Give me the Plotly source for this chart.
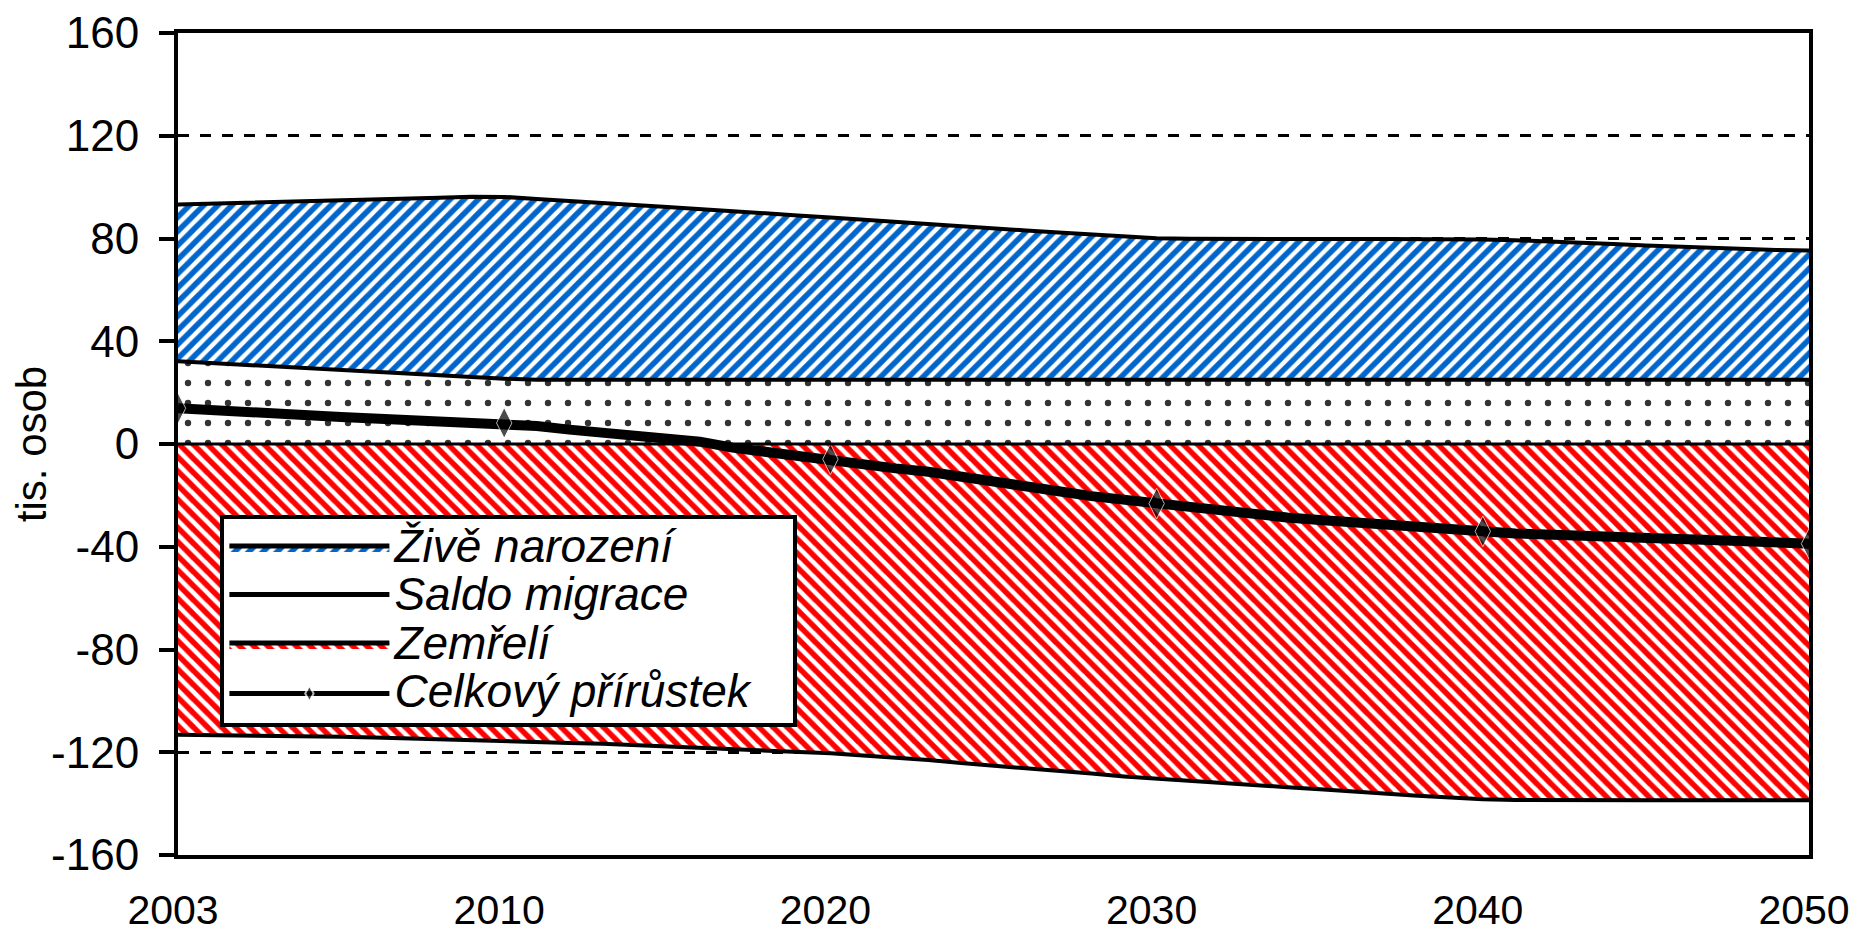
import plotly.graph_objects as go

# the first category sits in the 2000 slot of the axis but is labelled 2003
year_pos = list(range(2000, 2051))
tick_pos = [2000, 2010, 2020, 2030, 2040, 2050]
tick_text = ["2003", "2010", "2020", "2030", "2040", "2050"]
y_ticks = [-160, -120, -80, -40, 0, 40, 80, 120, 160]

births = [93.2, 93.5, 93.8, 94.1, 94.4, 94.7, 95.1, 95.5, 95.9, 96.3,
          96.2, 95.4, 94.5, 93.9, 93.0, 92.3, 91.4, 90.6, 89.8, 89.0,
          88.2, 87.3, 86.4, 85.5, 84.7, 83.9, 83.1, 82.3, 81.5, 80.7,
          80.1, 79.9, 79.8, 79.8, 79.8, 79.8, 79.8, 79.8, 79.8, 79.7,
          79.6, 79.3, 78.9, 78.4, 77.9, 77.3, 76.8, 76.3, 75.8, 75.5,
          75.3]
migration = [32.2, 31.5, 30.8, 30.1, 29.4, 28.7, 28.0, 27.3, 26.7, 26.0,
             25.4, 25.0] + [25.0] * 39
deaths = [-113.2, -113.3, -113.4, -113.6, -113.8, -114.0, -114.3, -114.7, -115.0, -115.3,
          -115.7, -116.0, -116.4, -116.7, -117.2, -117.8, -118.4, -118.9, -119.3, -119.8,
          -120.4, -121.3, -122.1, -123.0, -124.2, -125.2, -126.0, -127.0, -128.3, -129.4,
          -130.3, -131.2, -132.0, -132.8, -133.6, -134.4, -135.3, -136.1, -136.9, -137.6,
          -138.3, -138.6] + [-138.7] * 9
total = [13.9, 13.0, 12.4, 12.0, 11.2, 10.5, 10.0, 9.6, 9.2, 8.7,
         8.2, 7.0, 5.6, 4.3, 3.3, 2.5, 0.9, -1.4, -3.2, -4.8,
         -5.9, -7.7, -9.5, -10.8, -12.5, -14.3, -16.3, -18.4, -20.3, -21.8,
         -23.2, -24.3, -26.0, -27.6, -28.6, -29.6, -30.3, -31.3, -32.4, -33.3,
         -34.0, -34.8, -35.4, -35.7, -36.1, -36.6, -37.0, -37.4, -38.0, -38.5,
         -38.8]

FONT = "Liberation Sans, Arial, sans-serif"
BLUE = "#0066CC"
RED = "#FF0000"


def legend_name(text, pad=0):
    # big legend text, while the legend font size keeps the rows tight
    return '<span style="font-size:46px">' + text + "\u00a0" * pad + "</span>"


fig = go.Figure()

# fillcolor set opaque, otherwise the pattern inherits a half-transparent fill
fig.add_trace(go.Scatter(
    x=year_pos, y=births, name=legend_name("Živě narození"),
    mode="lines", fill="tozeroy", fillcolor=BLUE,
    line=dict(color="black", width=4),
    fillpattern=dict(shape="/", fgcolor=BLUE, bgcolor="white", fgopacity=1,
                     size=10, solidity=0.55),
))
fig.add_trace(go.Scatter(
    x=year_pos, y=migration, name=legend_name("Saldo migrace"),
    mode="lines", fill="tozeroy", fillcolor="white",
    line=dict(color="black", width=4),
    fillpattern=dict(shape=".", fgcolor="#333333", bgcolor="white", fgopacity=1,
                     size=20, solidity=0.08),
))
fig.add_trace(go.Scatter(
    x=year_pos, y=deaths, name=legend_name("Zemřelí"),
    mode="lines", fill="tozeroy", fillcolor=RED,
    line=dict(color="black", width=4),
    fillpattern=dict(shape="\\", fgcolor=RED, bgcolor="white", fgopacity=1,
                     size=10, solidity=0.55),
))
# diamonds only on the labelled decades
marker_sizes = [22 if (y - 2000) % 10 == 0 else 0 for y in year_pos]
fig.add_trace(go.Scatter(
    x=year_pos, y=total, name=legend_name("Celkový přírůstek", pad=3),
    mode="lines+markers",
    line=dict(color="black", width=10),
    marker=dict(symbol="diamond-tall", size=marker_sizes, color="black"),
))

fig.add_shape(type="line", xref="paper", x0=0, x1=1, yref="y", y0=0, y1=0,
              line=dict(color="black", width=3), layer="above")

# page body adds 8px around the figure
fig.update_layout(
    width=1850, height=928,
    margin=dict(l=170, r=49, t=25, b=81),
    paper_bgcolor="white", plot_bgcolor="white",
    font=dict(family=FONT, size=44, color="black"),
    showlegend=True,
    legend=dict(
        x=0.026, y=0.414, xanchor="left", yanchor="top",
        bgcolor="white", bordercolor="black", borderwidth=4,
        font=dict(family=FONT, size=35, color="black", style="italic"),
        itemwidth=160, itemsizing="constant",
        tracegroupgap=0,
    ),
    xaxis=dict(
        range=[2000, 2050], tickvals=tick_pos, ticktext=tick_text,
        showgrid=False, zeroline=False, automargin=False,
        showline=True, linecolor="black", linewidth=4, mirror=True,
        ticks="", ticklabelstandoff=16, ticklabelshift=-5, ticklabeloverflow="allow",
        tickfont=dict(size=41),
    ),
    yaxis=dict(
        range=[-160, 160], tickvals=y_ticks, ticktext=[str(v) for v in y_ticks],
        showgrid=True, gridcolor="black", gridwidth=3, griddash="11px,11px",
        zeroline=False, automargin=False,
        showline=True, linecolor="black", linewidth=4, mirror=True,
        ticks="outside", ticklen=15, tickwidth=4, tickcolor="black",
        ticklabelstandoff=11,
        tickfont=dict(size=44),
        title=dict(text="tis. osob", font=dict(size=42), standoff=28),
    ),
)

fig.write_html("out.html")
